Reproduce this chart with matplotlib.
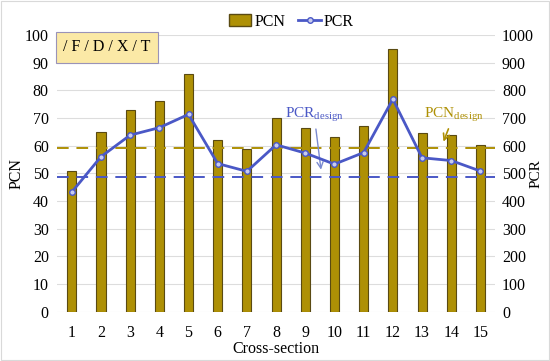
import matplotlib.pyplot as plt
from matplotlib.lines import Line2D
from matplotlib.patches import Patch
import numpy as np

plt.rcParams.update({'font.family': ['Liberation Serif', 'DejaVu Serif'], 'font.size': 11.5})

sections = [str(i) for i in range(1, 16)]
pcn = [51, 65, 73, 76, 85.8, 62, 58.8, 70, 66.3, 63.2, 67, 94.8, 64.5, 63.8, 60.3]
pcr = [432, 560, 638, 665, 713, 535, 507, 603, 573, 533, 575, 768, 556, 546, 508]
pcn_design = 59
pcr_design = 488

bar_col = '#AE9005'
line_col = '#4A58C6'

fig = plt.figure(figsize=(5.5, 3.61), dpi=100)
ax = fig.add_axes([0.104, 0.137, 0.796, 0.766])
ax2 = ax.twinx()

x = np.arange(len(sections))
ax.bar(x, pcn, width=0.31, color=bar_col, edgecolor='#5a4a12', linewidth=0.8, zorder=2)
ax.axhline(pcn_design, color=bar_col, ls=(0, (6, 4)), lw=1.4, zorder=3)
ax.set_ylim(0, 100)
ax.set_yticks(range(0, 101, 10))
ax.set_xlim(-0.5, 14.5)
ax.set_xticks(x)
ax.set_xticklabels(sections)
ax.grid(axis='y', color='#dddddd', lw=0.8, zorder=0)
ax.set_axisbelow(True)
ax.set_ylabel('PCN', labelpad=0)
ax.set_xlabel('Cross-section', labelpad=0)

ax2.plot(x, pcr, color=line_col, lw=2, marker='o', ms=4, mfc='#c8ccee', mec=line_col, mew=1, zorder=4)
ax2.axhline(pcr_design, color=line_col, ls=(0, (6, 4)), lw=1.4, zorder=3)
ax2.set_ylim(0, 1000)
ax2.set_yticks(range(0, 1001, 100))
ax2.set_ylabel('PCR', fontsize=11)
ax2.yaxis.set_label_coords(1.08, 0.5)

for a in (ax, ax2):
    for s in a.spines.values():
        s.set_visible(False)
    a.tick_params(length=0, labelsize=11.5, pad=6)
ax.tick_params(axis='x', pad=10)
ax2.tick_params(pad=5)

# annotations
ax2.annotate('PCR$_{\\mathregular{design}}$', xy=(8.55, pcr_design + 15), xytext=(8.3, 680),
             color=line_col, fontsize=11, ha='center', va='bottom',
             arrowprops=dict(arrowstyle='->', color='#7a8ad0', lw=1))
ax.annotate('PCN$_{\\mathregular{design}}$', xy=(12.7, pcn_design + 1.5), xytext=(13.1, 68),
            color=bar_col, fontsize=11, ha='center', va='bottom',
            arrowprops=dict(arrowstyle='->', color=bar_col, lw=1.2))

ax.text(-0.3, 95.5, '/ F / D / X / T', fontsize=11.5, ha='left', va='center',
        bbox=dict(boxstyle='square,pad=0.45', fc='#fbe9a6', ec='#9a93b8', lw=0.8), zorder=5)

handles = [Patch(facecolor=bar_col, edgecolor='#5a4a12', label='PCN'),
           Line2D([0], [0], color=line_col, lw=2, marker='o', ms=4, mfc='#c8ccee', mec=line_col, label='PCR')]
fig.legend(handles=handles, loc='center', bbox_to_anchor=(0.53, 0.94), ncol=2, frameon=False,
           fontsize=11.5, handlelength=1.4, handletextpad=0.2, columnspacing=0.8)

fig.patches.append(plt.Rectangle((0.002, 0.003), 0.996, 0.994, transform=fig.transFigure,
                                 fill=False, ec='#d9d9d9', lw=0.8))

fig.savefig('out.png', dpi=100)
